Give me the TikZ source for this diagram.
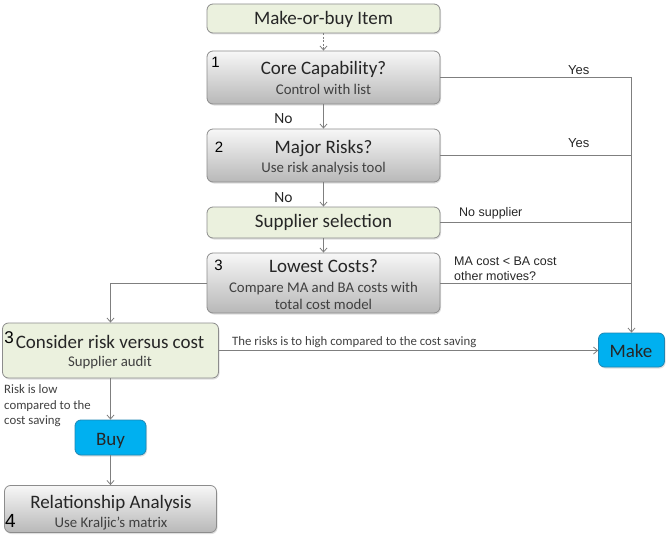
\documentclass[tikz,border=0pt]{standalone}
\usepackage{fontspec}
\setmainfont{Carlito}
\newfontfamily\arialf{Liberation Sans}
\usetikzlibrary{arrows.meta,shadows}
\definecolor{lnc}{HTML}{7F7F7F}
\definecolor{bdr}{HTML}{8C8C8C}
\definecolor{grn}{HTML}{EBF1DE}
\definecolor{blu}{HTML}{00B0F0}
\definecolor{bludk}{HTML}{1F86B3}
\definecolor{gtop}{HTML}{F7F7F7}
\definecolor{gbot}{HTML}{B8B8B8}
\definecolor{txt}{HTML}{262626}
\definecolor{stxt}{HTML}{404040}
\begin{document}
\begin{tikzpicture}[x=1pt,y=-1pt,
 box/.style={rounded corners=6pt, draw=bdr, line width=0.8pt, inner sep=0pt,
   drop shadow={opacity=0.25,shadow xshift=1pt,shadow yshift=-1.5pt}},
 graybox/.style={box, top color=gtop, bottom color=gbot},
 greenbox/.style={box, fill=grn},
 bluebox/.style={box, fill=blu, draw=bludk},
 ttl/.style={font=\fontsize{19}{21}\selectfont, text=txt, anchor=base, inner sep=0pt},
 sub/.style={font=\fontsize{14.8}{16}\selectfont, text=stxt, anchor=base, inner sep=0pt},
 num/.style={font=\arialf\fontsize{15}{16}\selectfont, text=black, anchor=base, inner sep=0pt},
 lab/.style={font=\arialf\fontsize{12.5}{15}\selectfont, text=txt, anchor=base west, inner sep=0pt},
 clab/.style={font=\fontsize{12.8}{15}\selectfont, text=stxt, anchor=base west, inner sep=0pt},
 nolab/.style={font=\fontsize{15.5}{17}\selectfont, text=txt, anchor=base, inner sep=0pt},
 conn/.style={draw=lnc, line width=0.8pt},
 arr/.style={conn, -{Straight Barb[length=4pt,width=7pt]}},
]
\useasboundingbox (0,0) rectangle (667,535);

% boxes
\node[greenbox, minimum width=233pt, minimum height=29pt] (item) at (323.5,18.5) {};
\node[graybox, minimum width=233pt, minimum height=53pt] (core) at (323.5,77.5) {};
\node[graybox, minimum width=233pt, minimum height=53pt] (risks) at (323.5,155.5) {};
\node[greenbox, minimum width=233pt, minimum height=31pt] (supp) at (323.5,222.5) {};
\node[graybox, minimum width=233pt, minimum height=60pt] (cost) at (323.5,283) {};
\node[greenbox, minimum width=216pt, minimum height=55pt] (consider) at (110.5,350.5) {};
\node[bluebox, minimum width=66pt, minimum height=34pt] (make) at (631.5,350) {};
\node[bluebox, minimum width=71pt, minimum height=35pt] (buy) at (110.5,437.5) {};
\node[graybox, minimum width=212pt, minimum height=47pt] (rel) at (110.5,509) {};

% box texts
\node[ttl] (itemT) at (323.5,25) {Make-or-buy Item};
\node[ttl] (coreT) at (323.5,75) {Core Capability?};
\node[sub] (coreS) at (323.5,95) {Control with list};
\node[ttl] (risksT) at (323.5,153) {Major Risks?};
\node[sub] (risksS) at (323.5,172) {Use risk analysis tool};
\node[ttl] (suppT) at (323.5,227) {Supplier selection};
\node[ttl] (costT) at (323.5,272) {Lowest Costs?};
\node[sub] (costS1) at (323.5,292) {Compare MA and BA costs with};
\node[sub] (costS2) at (323.5,309) {total cost model};
\node[ttl] (consT) at (110,348) {Consider risk versus cost};
\node[sub] (consS) at (110,366) {Supplier audit};
\node[ttl] (makeT) at (631,357) {Make};
\node[ttl] (buyT) at (110.5,445) {Buy};
\node[ttl] (relT) at (111,508) {Relationship Analysis};
\node[sub] (relS) at (111,527) {Use Kraljic’s matrix};

% step numbers
\node[num] (n1) at (215.5,67) {1};
\node[num] (n2) at (219,152) {2};
\node[num] (n3) at (218.5,270) {3};
\node[num, font=\arialf\fontsize{17}{18}\selectfont] (n3b) at (9,343) {3};
\node[num, font=\arialf\fontsize{19}{20}\selectfont] (n4) at (10.5,527) {4};

% connectors
\draw[arr, dash pattern=on 2pt off 1.5pt] (item) -- (core);
\draw[arr] (core) -- (risks);
\draw[arr] (risks) -- (supp);
\draw[arr] (supp) -- (cost);
\draw[conn] (core.east) -- (core.east -| make.north);
\draw[conn] (risks.east) -- (risks.east -| make.north);
\draw[conn] (supp.east) -- (supp.east -| make.north);
\draw[conn] (cost.east) -- (cost.east -| make.north);
\draw[arr] (core.east -| make.north) -- (make.north);
\draw[arr] (cost.west) -| (consider.north);
\draw[arr] (consider.east) -- (consider.east -| make.west);
\draw[arr] (consider.south) -- (buy.north);
\draw[arr] (buy) -- (rel);

% edge labels
\node[lab, font=\arialf\fontsize{13}{15}\selectfont] (yes1) at (568,75) {Yes};
\node[lab, font=\arialf\fontsize{13}{15}\selectfont] (yes2) at (568,147) {Yes};
\node[nolab] (no1) at (283.5,123) {No};
\node[nolab] (no2) at (283.5,202) {No};
\node[lab] (nosup) at (459,216) {No supplier};
\node[lab] (mac1) at (454,265) {MA cost < BA cost};
\node[lab] (mac2) at (454,280) {other motives?};
\node[clab] (high) at (232,345) {The risks is to high compared to the cost saving};
\node[clab] (low1) at (4,393) {Risk is low};
\node[clab] (low2) at (4,409) {compared to the};
\node[clab] (low3) at (4,424) {cost saving};
\end{tikzpicture}
\end{document}
